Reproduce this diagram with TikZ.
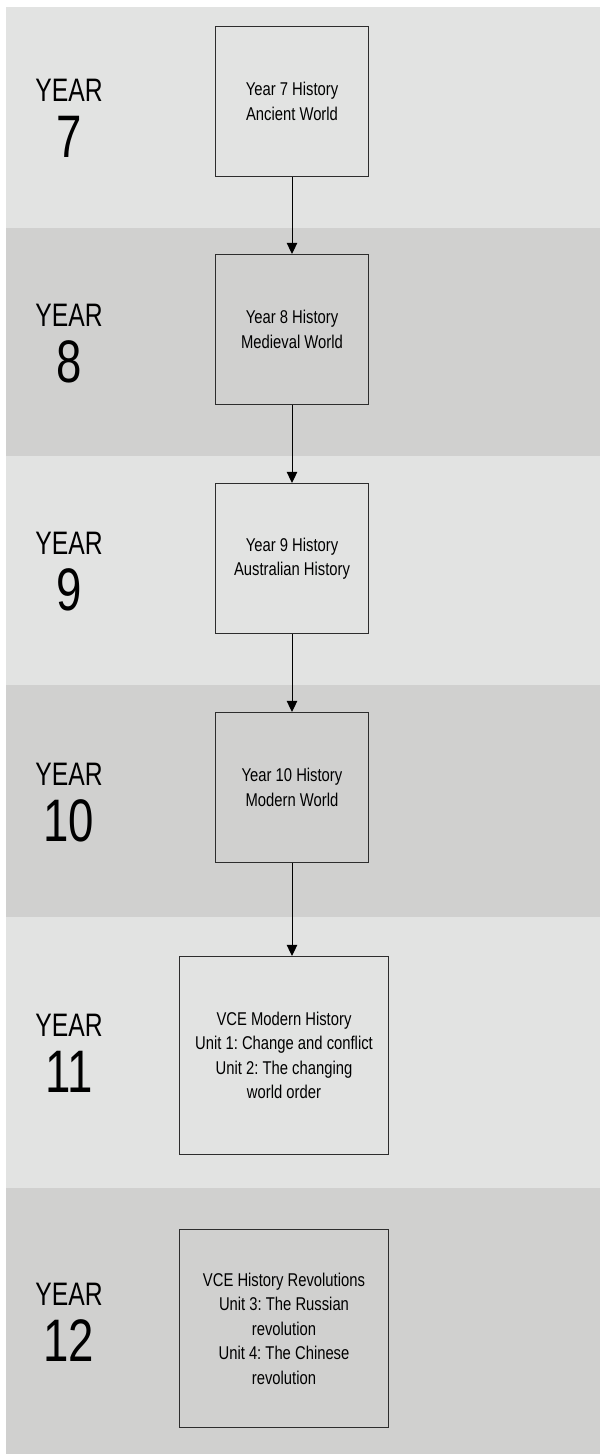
\documentclass[tikz,border=0pt]{standalone}
\usepackage{fontspec}
\setmainfont{Liberation Sans}
\newfontfamily\narrowsans[FakeStretch=0.8]{Liberation Sans}
\newfontfamily\yearsans[FakeStretch=0.76]{Liberation Sans}
\usetikzlibrary{arrows.meta}
\definecolor{bandlight}{RGB}{226,227,226}
\definecolor{banddark}{RGB}{208,208,207}
\definecolor{boxline}{RGB}{45,45,45}
\frenchspacing

\begin{document}
\begin{tikzpicture}
    [x=1pt, y=-1pt,
    every node/.style={font=\narrowsans},
    course/.style={draw=boxline, line width=1.2pt, inner sep=0pt, align=center,
      minimum width=153pt, minimum height=150pt,
      font=\narrowsans\fontsize{18.5}{24.5}\selectfont},
    vce/.style={course, minimum width=209pt, minimum height=198pt},
    yearword/.style={anchor=base, font=\yearsans\fontsize{32.5}{32.5}\selectfont},
    yearnum/.style={anchor=base, font=\yearsans\fontsize{60}{60}\selectfont},
    link/.style={-{Triangle[width=10.5pt,length=11pt]}, line width=1pt},
    ]
    \useasboundingbox (0,0) rectangle (600,1454);
    % bands: top/bottom/colour/year
    \foreach \ya/\yb/\col/\yr in {7/228/bandlight/7, 228/456/banddark/8,
      456/685/bandlight/9, 685/917/banddark/10,
      917/1188/bandlight/11, 1188/1454/banddark/12}{
      \fill[\col] (6,\ya) rectangle (600,\yb);
      \node[yearword] (word\yr) at (69,{(\ya+\yb)/2-16}) {YEAR};
      \node[yearnum] (num\yr) at (69,{(\ya+\yb)/2+40}) {\yr};
    }
    \node[course] (b7) at (292,101.5) {Year 7 History\\Ancient World};
    \node[course] (b8) at (292,329.5) {Year 8 History\\Medieval World};
    \node[course] (b9) at (292,558.5) {Year 9 History\\Australian History};
    \node[course] (b10) at (292,787.5) {Year 10 History\\Modern World};
    \node[vce] (b11) at (284,1055.5) {VCE Modern History\\Unit 1: Change and conflict\\Unit 2: The changing\\world order};
    \node[vce] (b12) at (284,1328.5) {VCE History Revolutions\\Unit 3: The Russian\\revolution\\Unit 4: The Chinese\\revolution};
    \draw[link] (b7) -- (b8);
    \draw[link] (b8) -- (b9);
    \draw[link] (b9) -- (b10);
    \draw[link] (b10) -- (b10.south |- b11.north);
    % \draw[link] (b11) -- (b12);
\end{tikzpicture}
\end{document}
